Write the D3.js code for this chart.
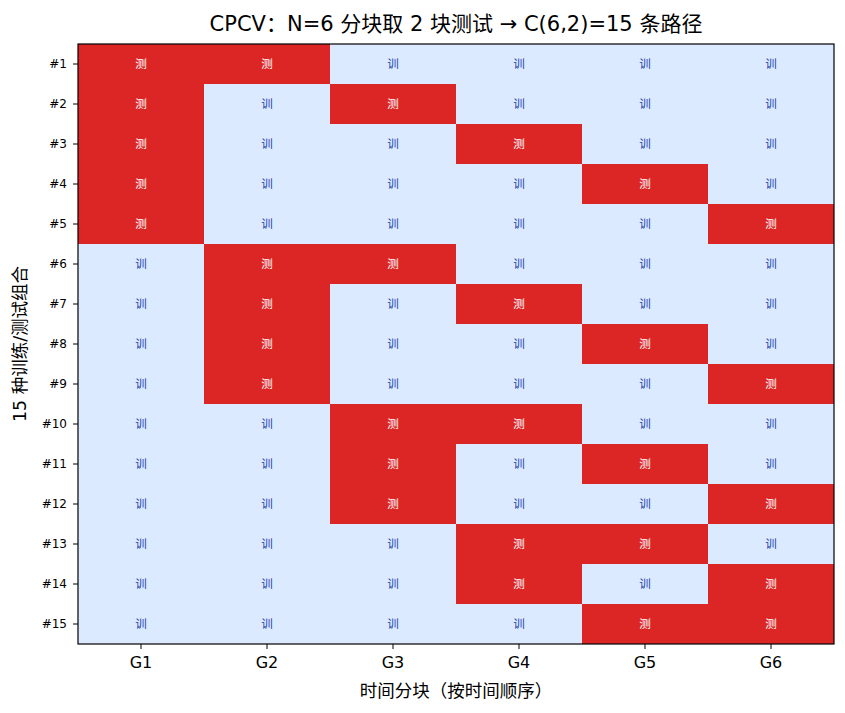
<!DOCTYPE html>
<html>
<head>
<meta charset="utf-8">
<script src="https://cdn.jsdelivr.net/npm/d3@7"></script>
<style>
  body { margin: 0; background: #fff; }
  text { font-family: "DejaVu Sans", "Noto Sans CJK SC", sans-serif; }
</style>
</head>
<body>
<svg id="chart"></svg>
<script>
// groups (columns) and the 15 train/test paths (rows)
var groups = ["G1", "G2", "G3", "G4", "G5", "G6"];
var paths = ["#1", "#2", "#3", "#4", "#5", "#6", "#7", "#8", "#9", "#10", "#11", "#12", "#13", "#14", "#15"];
// test blocks for each path
var testPairs = [
    ["G1", "G2"], ["G1", "G3"], ["G1", "G4"], ["G1", "G5"], ["G1", "G6"],
    ["G2", "G3"], ["G2", "G4"], ["G2", "G5"], ["G2", "G6"],
    ["G3", "G4"], ["G3", "G5"], ["G3", "G6"],
    ["G4", "G5"], ["G4", "G6"],
    ["G5", "G6"]
];

var svgWidth = 845, svgHeight = 713;
var margin = { top: 44, right: 11, bottom: 69, left: 78 };
var width = svgWidth - margin.left - margin.right;
var height = svgHeight - margin.top - margin.bottom;

var svg = d3.select("#chart")
    .attr("width", svgWidth)
    .attr("height", svgHeight);

var g = svg.append("g")
    .attr("transform", "translate(" + margin.left + "," + margin.top + ")");

var x = d3.scaleBand().domain(groups).range([0, width]);
var y = d3.scaleBand().domain(paths).range([0, height]);

var cells = [];
paths.forEach(function (p, i) {
    groups.forEach(function (gr) {
        cells.push({ path: p, group: gr, test: testPairs[i].indexOf(gr) >= 0 });
    });
});

g.selectAll("rect.cell")
    .data(cells)
    .enter().append("rect")
    .attr("class", "cell")
    .attr("x", function (d) { return x(d.group); })
    .attr("y", function (d) { return y(d.path); })
    .attr("width", x.bandwidth())
    .attr("height", y.bandwidth())
    .attr("fill", function (d) { return d.test ? "#dc2626" : "#dbeafe"; })
    .attr("shape-rendering", "crispEdges");

g.selectAll("text.cell-label")
    .data(cells)
    .enter().append("text")
    .attr("class", "cell-label")
    .attr("x", function (d) { return x(d.group) + x.bandwidth() / 2; })
    .attr("y", function (d) { return y(d.path) + y.bandwidth() / 2; })
    .attr("text-anchor", "middle")
    .attr("dominant-baseline", "central")
    .style("font-size", "11.5px")
    .attr("fill", function (d) { return d.test ? "#ffffff" : "#1e40af"; })
    .text(function (d) { return d.test ? "测" : "训"; });

// frame
g.append("rect")
    .attr("width", width)
    .attr("height", height)
    .attr("fill", "none")
    .attr("stroke", "#000")
    .attr("stroke-width", 1.2);

// x-axis
var xAxis = g.append("g")
    .attr("transform", "translate(0," + height + ")")
    .call(d3.axisBottom(x).tickSize(5).tickPadding(8));
xAxis.select(".domain").remove();
xAxis.selectAll("text").style("font-size", "16px").attr("fill", "#000");

// y-axis
var yAxis = g.append("g")
    .call(d3.axisLeft(y).tickSize(5).tickPadding(6));
yAxis.select(".domain").remove();
yAxis.selectAll("text").style("font-size", "12px").attr("fill", "#000");

// title and axis labels
svg.append("text")
    .attr("x", margin.left + width / 2)
    .attr("y", 31)
    .attr("text-anchor", "middle")
    .style("font-size", "21px")
    .text("CPCV：N=6 分块取 2 块测试 → C(6,2)=15 条路径");

svg.append("text")
    .attr("x", margin.left + width / 2)
    .attr("y", 697)
    .attr("text-anchor", "middle")
    .style("font-size", "17.5px")
    .text("时间分块（按时间顺序）");

svg.append("text")
    .attr("transform", "translate(26," + (margin.top + height / 2) + ") rotate(-90)")
    .attr("text-anchor", "middle")
    .style("font-size", "17.5px")
    .text("15 种训练/测试组合");
</script>
</body>
</html>
